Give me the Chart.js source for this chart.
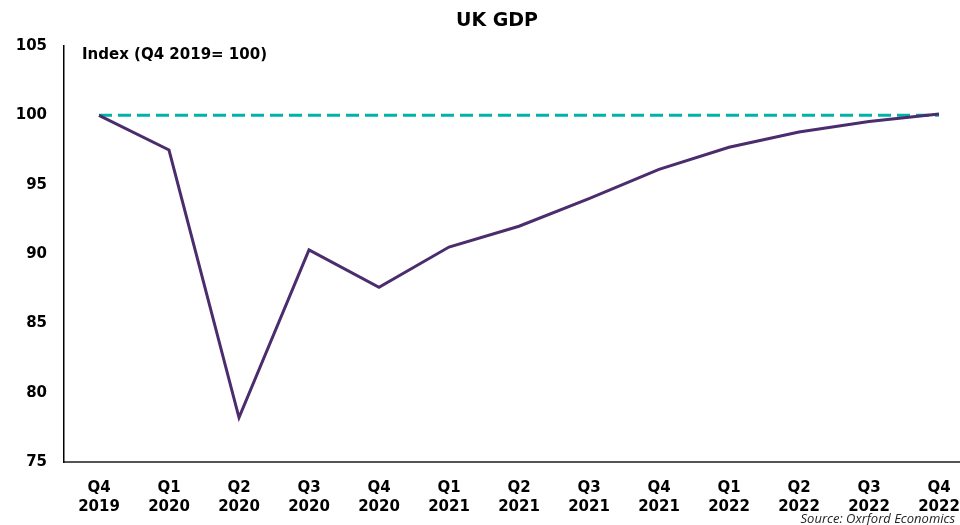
<!DOCTYPE html>
<html>
<head>
<meta charset="utf-8">
<title>UK GDP</title>
<script src="https://cdn.jsdelivr.net/npm/chart.js@4"></script>
<style>
  html, body { margin: 0; padding: 0; background: #fff; overflow: hidden; }
  #wrap { width: 960px; height: 525px; overflow: hidden; }
</style>
</head>
<body>
<div id="wrap"><canvas id="gdpChart" width="980" height="525"></canvas></div>
<script>
const quarters = ['Q4', 'Q1', 'Q2', 'Q3', 'Q4', 'Q1', 'Q2', 'Q3', 'Q4', 'Q1', 'Q2', 'Q3', 'Q4'];
const years = ['2019', '2020', '2020', '2020', '2020', '2021', '2021', '2021', '2021', '2022', '2022', '2022', '2022'];
const gdpIndex = [100, 97.5, 78.2, 90.3, 87.6, 90.5, 92.0, 94.0, 96.1, 97.7, 98.8, 99.55, 100.1];
const baseline = [100, 100, 100, 100, 100, 100, 100, 100, 100, 100, 100, 100, 100];
const yTicks = [75, 80, 85, 90, 95, 100, 105];

const labels = quarters.map((q, i) => [q, years[i]]);
const boldFont = 'DejaVu Sans';

// title, axis note and source drawn onto the canvas
const textPlugin = {
    id: 'chartTexts',
    afterDraw(chart) {
        const ctx = chart.ctx;
        ctx.save();
        ctx.fillStyle = '#000';
        ctx.textBaseline = 'middle';
        ctx.font = 'bold 19px ' + boldFont;
        ctx.textAlign = 'center';
        ctx.fillText('UK GDP', 497, 21);

        ctx.font = 'bold 15px ' + boldFont;
        ctx.textAlign = 'left';
        ctx.fillText('Index (Q4 2019= 100)', 82, 55);

        ctx.font = 'italic 13px "Open Sans"';
        ctx.textAlign = 'right';
        ctx.fillStyle = '#222';
        ctx.fillText('Source: Oxrford Economics', 955, 519);
        ctx.restore();
    }
};

document.addEventListener('DOMContentLoaded', function () {
    const ctx = document.getElementById('gdpChart').getContext('2d');
    new Chart(ctx, {
        type: 'line',
        data: {
            labels: labels,
            datasets: [{
                label: 'UK GDP',
                data: gdpIndex,
                borderColor: '#4b2d6e',
                borderWidth: 3,
                pointRadius: 0,
                tension: 0,
                fill: false
            }, {
                label: 'Q4 2019 level',
                data: baseline,
                borderColor: '#00b3a7',
                borderWidth: 3,
                borderDash: [13, 6],
                pointRadius: 0,
                fill: false
            }]
        },
        options: {
            responsive: false,
            animation: false,
            layout: {
                padding: { top: 46, right: 6, bottom: 0, left: 0 }
            },
            plugins: {
                legend: { display: false },
                tooltip: { enabled: false },
                title: { display: false }
            },
            scales: {
                x: {
                    offset: true,
                    grid: { display: false, drawTicks: false },
                    border: { display: true, color: '#555', width: 2 },
                    ticks: {
                        color: '#000',
                        padding: 16,
                        maxRotation: 0,
                        minRotation: 0,
                        autoSkip: false,
                        font: { family: boldFont, size: 15, weight: 'bold', lineHeight: 1.3 }
                    },
                    afterFit: function (scale) { scale.height = 63; }
                },
                y: {
                    min: 75,
                    max: 105,
                    grid: { display: false, drawTicks: false },
                    border: { display: true, color: '#000', width: 1.5 },
                    afterBuildTicks: function (scale) {
                        scale.ticks = yTicks.map(v => ({ value: v }));
                    },
                    ticks: {
                        color: '#000',
                        padding: 17,
                        font: { family: boldFont, size: 15, weight: 'bold' }
                    },
                    afterFit: function (scale) { scale.width = 64; }
                }
            }
        },
        plugins: [textPlugin]
    });
});
</script>
</body>
</html>
